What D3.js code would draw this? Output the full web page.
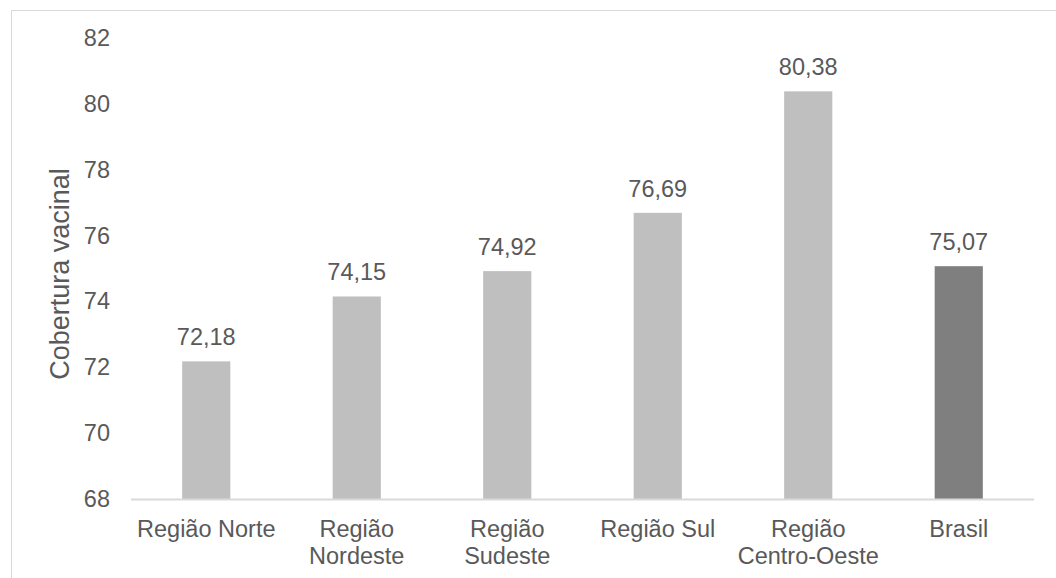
<!DOCTYPE html>
<html>
<head>
<meta charset="utf-8">
<script src="https://cdn.jsdelivr.net/npm/d3@7"></script>
<style>
  body { margin: 0; background: #fff; }
  text { font-family: "Liberation Sans", Arial, sans-serif; fill: #595959; }
</style>
</head>
<body>
<div id="canvas"></div>
<script>
"use strict"
// canvas size
let svgWidth = 1056;
let svgHeight = 578;

// chart data
let regions = ["Região Norte", "Região Nordeste", "Região Sudeste", "Região Sul", "Região Centro-Oeste", "Brasil"];
let coverage = [72.18, 74.15, 74.92, 76.69, 80.38, 75.07];
let yTicks = [68, 70, 72, 74, 76, 78, 80, 82];

let margin = { top: 38, right: 22, bottom: 79, left: 131 };

let svg = d3.select("#canvas")
    .append("svg")
    .attr("width", svgWidth)
    .attr("height", svgHeight)

// chart frame (only top and left edges show, the rest is cut off)
svg.append("path")
    .attr("d", "M11.5," + svgHeight + " V10.5 H" + svgWidth)
    .attr("fill", "none")
    .attr("stroke", "#d9d9d9")

let x = d3.scaleBand()
    .domain(regions)
    .range([margin.left, svgWidth - margin.right])
    .paddingInner(0.68)
    .paddingOuter(0.34)

let y = d3.scaleLinear()
    .domain([68, 82])
    .range([svgHeight - margin.bottom, margin.top])

// bars
svg.selectAll(".bar")
    .data(regions)
    .enter()
    .append("rect")
    .attr("x", function(d){ return x(d); })
    .attr("y", function(d, i){ return y(coverage[i]); })
    .attr("width", x.bandwidth())
    .attr("height", function(d, i){ return y(68) - y(coverage[i]); })
    .attr("fill", function(d){ return d == "Brasil" ? "#7f7f7f" : "#bfbfbf"; })

// value labels
svg.selectAll(".valueLabel")
    .data(regions)
    .enter()
    .append("text")
    .attr("x", function(d){ return x(d) + x.bandwidth() / 2; })
    .attr("y", function(d, i){ return y(coverage[i]) - 16; })
    .attr("text-anchor", "middle")
    .style("font-size", "23.5px")
    .text(function(d, i){ return coverage[i].toFixed(2).replace(".", ","); })

// y axis (labels only)
let yAxis = d3.axisLeft(y)
    .tickValues(yTicks)
    .tickSize(0)
    .tickPadding(21)
    .tickFormat(d3.format("d"))

let yg = svg.append("g")
    .attr("transform", "translate(" + margin.left + ",0)")
    .call(yAxis)
yg.select(".domain").remove()
yg.selectAll("text")
    .style("font-size", "23.5px")
    .style("font-family", null)
    .attr("fill", null)

// x axis line
svg.append("line")
    .attr("x1", margin.left)
    .attr("x2", svgWidth - margin.right)
    .attr("y1", y(68) + 0.5)
    .attr("y2", y(68) + 0.5)
    .attr("stroke", "#d9d9d9")
    .attr("stroke-width", 2)

// x labels, wrapped like the original
let wrapped = {
    "Região Nordeste": ["Região", "Nordeste"],
    "Região Sudeste": ["Região", "Sudeste"],
    "Região Centro-Oeste": ["Região", "Centro-Oeste"]
};

regions.forEach(function(r){
    let lines = wrapped[r] || [r];
    let t = svg.append("text")
        .attr("x", x(r) + x.bandwidth() / 2)
        .attr("y", y(68) + 38)
        .attr("text-anchor", "middle")
        .style("font-size", "23.5px")
    lines.forEach(function(line, i){
        t.append("tspan")
            .attr("x", x(r) + x.bandwidth() / 2)
            .attr("dy", i == 0 ? 0 : 27)
            .text(line);
    });
});

// y axis title
svg.append("text")
    .attr("transform", "translate(69,274) rotate(-90)")
    .attr("text-anchor", "middle")
    .style("font-size", "27px")
    .text("Cobertura vacinal")
</script>
</body>
</html>
